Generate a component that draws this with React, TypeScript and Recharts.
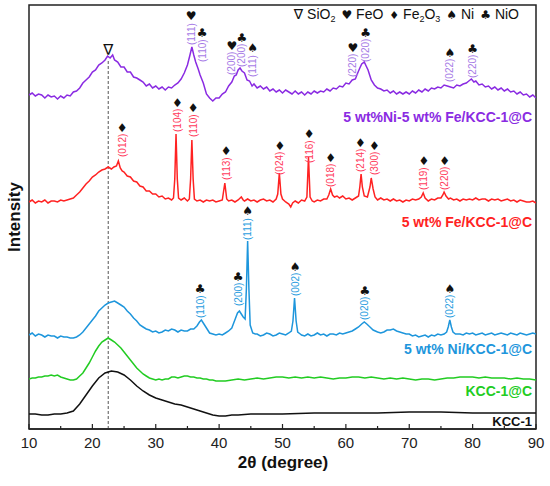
import { LineChart, Line, XAxis, YAxis, ReferenceArea, ReferenceDot, ReferenceLine } from "recharts";

// 2θ (degree) vs intensity (a.u.); curves are stacked with their offsets
const kcc1: [number, number][] = [
  [10, 15], [11, 15], [12, 14], [13, 14], [14, 15], [15, 15], [16, 16], [17, 18], [18, 25], [19, 34],
  [20, 43], [21, 51], [22, 56], [23, 58], [24, 57], [25, 54], [26, 49], [27, 43], [28, 38], [29, 34],
  [30, 31], [31, 29], [32, 27], [33, 25], [34, 24], [35, 22], [36, 20], [37, 18], [38, 16], [39, 14],
  [40, 13], [41, 13], [42, 14], [43, 14], [45, 15], [50, 15], [55, 16], [60, 16], [65, 16], [70, 17],
  [75, 17], [80, 16], [85, 16], [90, 16]
];

const kcc1C: [number, number][] = [
  [10, 50], [10.5, 51], [11, 51], [11.5, 52], [12, 52], [12.5, 53], [13, 53], [13.5, 54], [14, 53],
  [14.5, 54], [15, 52], [15.5, 51], [16, 50], [16.5, 49], [17, 49], [17.5, 50], [18, 53], [18.5, 56],
  [19, 61], [19.5, 66], [20, 72], [20.5, 78], [21, 83], [21.5, 87], [22, 89], [22.5, 91], [23, 89],
  [23.5, 87], [24, 84], [24.5, 81], [25, 77], [25.5, 73], [26, 69], [26.5, 65], [27, 61], [27.5, 58],
  [28, 55], [28.5, 53], [29, 51], [29.5, 50], [30, 49], [30.5, 50], [31, 49], [31.5, 50], [32, 50],
  [32.5, 52], [33, 52], [33.5, 51], [34, 52], [34.5, 53], [35, 53], [35.5, 52], [36, 52], [36.5, 51],
  [37, 51], [37.5, 50], [38, 50], [38.5, 49], [39, 49], [39.5, 48], [40, 48], [41, 48], [42, 49],
  [43, 50], [44, 49], [45, 50], [46, 51], [47, 50], [48, 51], [49, 52], [50, 52], [51, 51], [52, 52],
  [53, 51], [54, 52], [55, 51], [56, 52], [57, 51], [58, 50], [59, 51], [60, 51], [61, 52], [62, 52],
  [63, 51], [64, 52], [65, 51], [66, 50], [67, 51], [68, 50], [69, 51], [70, 50], [71, 49], [72, 50],
  [73, 50], [74, 49], [75, 50], [76, 51], [77, 51], [78, 52], [79, 52], [80, 52], [81, 51], [82, 52],
  [83, 51], [84, 51], [85, 51], [86, 50], [87, 51], [88, 50], [89, 50], [90, 49]
];

const niKcc: [number, number][] = [
  [10, 94], [10.5, 96], [11, 93], [11.5, 95], [12, 94], [12.5, 92], [13, 94], [13.5, 93], [14, 93],
  [14.5, 91], [15, 93], [15.5, 92], [16, 92], [16.5, 91], [17, 91], [17.5, 92], [18, 94], [18.5, 97],
  [19, 101], [19.5, 105], [20, 109], [20.5, 113], [21, 118], [21.5, 121], [22, 124], [22.5, 126],
  [23, 127], [23.5, 128], [24, 126], [24.5, 124], [25, 122], [25.5, 118], [26, 115], [26.5, 111],
  [27, 108], [27.5, 104], [28, 102], [28.5, 100], [29, 99], [29.5, 97], [30, 98], [30.5, 96], [31, 97],
  [31.5, 99], [32, 98], [32.5, 100], [33, 99], [33.5, 97], [34, 99], [34.5, 98], [35, 98], [35.5, 100],
  [36, 100], [36.5, 103], [36.9, 107], [37.2, 109], [37.6, 105], [38, 101], [38.5, 96], [39, 95],
  [39.5, 94], [40, 95], [40.5, 94], [41, 96], [41.5, 98], [42, 101], [42.3, 106], [42.6, 111],
  [42.9, 116], [43.2, 118], [43.5, 115], [43.8, 112], [44.1, 110], [44.3, 140], [44.5, 188], [44.7, 140],
  [44.9, 104], [45.3, 96], [45.7, 95], [46, 95], [46.5, 93], [47, 94], [47.5, 96], [48, 95], [48.5, 93],
  [49, 94], [49.5, 96], [50, 95], [50.5, 94], [51, 96], [51.4, 98], [51.65, 108], [51.9, 131],
  [52.15, 108], [52.4, 97], [52.8, 95], [53, 94], [53.5, 93], [54, 95], [54.5, 93], [55, 94], [55.5, 96],
  [56, 94], [56.5, 95], [57, 93], [57.5, 95], [58, 95], [58.5, 94], [59, 96], [59.5, 95], [60, 96],
  [60.5, 97], [61, 98], [61.5, 100], [62, 102], [62.5, 105], [62.9, 107], [63.3, 105], [63.8, 102],
  [64.3, 99], [65, 97], [65.5, 96], [66, 97], [66.5, 99], [67, 99], [67.5, 100], [68, 98], [68.5, 97],
  [69, 96], [69.5, 95], [70, 95], [70.5, 93], [71, 94], [71.5, 92], [72, 93], [72.5, 94], [73, 92],
  [73.5, 94], [74, 93], [74.5, 95], [75, 94], [75.5, 95], [75.9, 97], [76.15, 102], [76.4, 109],
  [76.65, 102], [76.9, 97], [77.3, 95], [78, 95], [78.5, 94], [79, 96], [79.5, 95], [80, 96], [80.5, 94],
  [81, 95], [81.5, 96], [82, 94], [82.5, 95], [83, 96], [83.5, 94], [84, 95], [84.5, 96], [85, 95],
  [85.5, 94], [86, 96], [86.5, 95], [87, 94], [87.5, 96], [88, 95], [88.5, 94], [89, 95], [89.5, 96],
  [90, 95]
];

const feKcc: [number, number][] = [
  [10, 227], [10.5, 229], [11, 226], [11.5, 228], [12, 227], [12.5, 229], [13, 226], [13.5, 228],
  [14, 228], [14.5, 227], [15, 229], [15.5, 228], [16, 229], [16.5, 230], [17, 231], [17.5, 234],
  [18, 237], [18.5, 241], [19, 245], [19.5, 248], [20, 252], [20.5, 254], [21, 257], [21.5, 259],
  [22, 260], [22.5, 262], [23, 260], [23.4, 262], [23.8, 263], [24.1, 268], [24.4, 261], [24.7, 258],
  [25, 257], [25.5, 253], [26, 252], [26.5, 248], [27, 247], [27.5, 243], [28, 242], [28.5, 238],
  [29, 238], [29.5, 235], [30, 235], [30.5, 232], [31, 233], [31.5, 230], [32, 231], [32.5, 229],
  [32.8, 231], [33, 250], [33.2, 295], [33.4, 250], [33.6, 231], [34, 229], [34.5, 231], [35, 228],
  [35.3, 230], [35.5, 250], [35.7, 289], [35.9, 250], [36.1, 230], [36.5, 228], [37, 229], [37.5, 227],
  [38, 229], [38.5, 228], [39, 229], [39.5, 227], [40, 228], [40.5, 229], [40.9, 246], [41.2, 230],
  [41.5, 228], [42, 229], [42.5, 227], [43, 229], [43.5, 232], [43.8, 229], [44, 228], [44.5, 230],
  [45, 228], [45.5, 229], [46, 227], [46.5, 229], [47, 230], [47.5, 228], [48, 229], [48.5, 227],
  [49, 230], [49.25, 235], [49.5, 256], [49.75, 235], [50, 230], [50.5, 227], [51, 225], [51.3, 222],
  [51.6, 226], [52, 228], [52.5, 226], [53, 229], [53.5, 228], [53.85, 232], [54.1, 272], [54.35, 232],
  [54.7, 228], [55, 227], [55.5, 229], [56, 228], [56.5, 230], [57, 230], [57.3, 234], [57.6, 240],
  [57.9, 234], [58.2, 232], [58.6, 233], [59, 231], [59.5, 233], [60, 230], [60.5, 231], [61, 229],
  [61.5, 231], [62, 233], [62.2, 242], [62.4, 255], [62.6, 242], [62.9, 233], [63.4, 232], [63.8, 242],
  [64, 251], [64.3, 240], [64.6, 232], [65, 229], [65.5, 231], [66, 229], [66.5, 230], [67, 228],
  [67.5, 230], [68, 228], [68.5, 229], [69, 227], [69.5, 229], [70, 228], [70.5, 230], [71, 229],
  [71.5, 230], [71.9, 232], [72.2, 236], [72.5, 231], [73, 228], [73.5, 230], [74, 229], [74.5, 231],
  [75, 231], [75.3, 234], [75.5, 237], [75.8, 233], [76.2, 230], [76.5, 231], [77, 229], [77.5, 230],
  [78, 228], [78.5, 230], [79, 229], [79.5, 230], [80, 229], [80.5, 231], [81, 229], [81.5, 230],
  [82, 230], [82.5, 228], [83, 230], [83.5, 229], [84, 230], [84.5, 228], [85, 229], [85.5, 230],
  [86, 228], [86.5, 229], [87, 227], [87.5, 229], [88, 228], [88.5, 227], [89, 227], [89.5, 228],
  [90, 226]
];

const niFeKcc: [number, number][] = [
  [10, 334], [10.5, 336], [11, 333], [11.5, 335], [12, 334], [12.5, 331], [13, 334], [13.5, 332],
  [14, 333], [14.5, 330], [15, 333], [15.5, 331], [16, 334], [16.5, 333], [17, 337], [17.5, 338],
  [18, 341], [18.5, 346], [19, 349], [19.5, 352], [20, 357], [20.5, 359], [21, 364], [21.5, 366],
  [22, 369], [22.4, 373], [22.8, 371], [23.2, 374], [23.5, 369], [24, 367], [24.5, 362], [25, 362],
  [25.5, 357], [26, 357], [26.5, 352], [27, 351], [27.5, 349], [28, 347], [28.5, 343], [29, 345],
  [29.5, 341], [30, 343], [30.5, 340], [31, 342], [31.5, 339], [32, 342], [32.5, 341], [33, 344],
  [33.5, 346], [34, 350], [34.5, 356], [35, 364], [35.4, 374], [35.7, 382], [36, 374], [36.3, 367],
  [36.7, 360], [37, 354], [37.5, 346], [38, 335], [38.5, 331], [39, 328], [39.5, 331], [40, 331],
  [40.5, 335], [41, 337], [41.5, 343], [42, 347], [42.4, 353], [42.7, 354], [43, 359], [43.3, 361],
  [43.6, 358], [44, 356], [44.4, 349], [44.8, 348], [45.2, 343], [45.5, 345], [46, 341], [46.5, 343],
  [47, 340], [47.5, 342], [48, 338], [48.5, 340], [49, 337], [49.5, 339], [50, 336], [50.5, 339],
  [51, 337], [51.5, 335], [52, 338], [52.5, 335], [53, 337], [53.5, 334], [54, 337], [54.5, 335],
  [55, 338], [55.5, 336], [56, 338], [56.5, 337], [57, 340], [57.5, 338], [58, 341], [58.5, 340],
  [59, 343], [59.5, 342], [60, 346], [60.5, 345], [61, 349], [61.5, 350], [61.8, 355], [62.2, 361],
  [62.5, 365], [62.9, 367], [63.2, 363], [63.5, 359], [63.8, 353], [64, 349], [64.5, 344], [65, 341],
  [65.5, 340], [66, 338], [66.5, 339], [67, 336], [67.5, 338], [68, 335], [68.5, 337], [69, 335],
  [69.5, 337], [70, 335], [70.5, 338], [71, 336], [71.5, 339], [72, 337], [72.5, 340], [73, 338],
  [73.5, 341], [74, 340], [74.5, 342], [75, 341], [75.5, 344], [76, 343], [76.5, 342], [77, 341],
  [77.5, 344], [78, 343], [78.5, 345], [79, 346], [79.4, 348], [79.8, 350], [80.2, 347], [80.5, 348],
  [81, 344], [81.5, 345], [82, 342], [82.5, 343], [83, 340], [83.5, 342], [84, 339], [84.5, 341],
  [85, 338], [85.5, 340], [86, 337], [86.5, 338], [87, 335], [87.5, 337], [88, 334], [88.5, 335],
  [89, 332], [89.5, 334], [90, 331]
];

// peak labels: [2θ, intensity at label foot, hkl, phase symbol]
const niFePeaks: [number, number, string, string][] = [
  [35.6, 384, "(111)", "♥"], [37.3, 367, "(110)", "♣"], [42.0, 354, "(200)", "♥"],
  [43.6, 362, "(200)", "♣"], [45.3, 352, "(111)", "♠"], [61.1, 352, "(220)", "♥"],
  [63.1, 367, "(020)", "♣"], [76.4, 347, "(022)", "♠"], [80.0, 351, "(220)", "♣"]
];

const fePeaks: [number, number, string, string][] = [
  [24.7, 272, "(012)", "♦"], [33.4, 297, "(104)", "♦"], [35.9, 292, "(110)", "♦"],
  [41.1, 249, "(113)", "♦"], [49.6, 254, "(024)", "♦"], [54.2, 266, "(116)", "♦"],
  [57.6, 242, "(018)", "♦"], [62.3, 257, "(214)", "♦"], [64.5, 254, "(300)", "♦"],
  [72.3, 239, "(119)", "♦"], [75.6, 239, "(220)", "♦"]
];

const niPeaks: [number, number, string, string][] = [
  [37.0, 111, "(110)", "♣"], [43.0, 123, "(200)", "♣"], [44.5, 189, "(111)", "♠"],
  [52.0, 133, "(002)", "♠"], [63.0, 109, "(020)", "♣"], [76.4, 111, "(022)", "♠"]
];

const xTicks = [10, 15, 20, 25, 30, 35, 40, 45, 50, 55, 60, 65, 70, 75, 80, 85, 90];
const sio2Pos = 22.5;

const font = "'Liberation Sans', Arial, sans-serif";
const symFont = "'DejaVu Sans', sans-serif";

const toPts = (arr: [number, number][]) => arr.map(([x, y]) => ({ x, y }));

const series = [
  { name: "KCC-1", data: kcc1, color: "#111111" },
  { name: "KCC-1@C", data: kcc1C, color: "#22cc22" },
  { name: "5 wt% Ni/KCC-1@C", data: niKcc, color: "#1e96dc" },
  { name: "5 wt% Fe/KCC-1@C", data: feKcc, color: "#ff2222" },
  { name: "5 wt%Ni-5 wt% Fe/KCC-1@C", data: niFeKcc, color: "#8a2be2" }
];

function PeakMark(props: any) {
  const { cx, cy, hkl, symbol, color } = props;
  if (cx == null || cy == null) return null;
  return (
    <g>
      <text
        transform={`translate(${cx + 3.5},${cy}) rotate(-90)`}
        fontSize={10}
        fontFamily={font}
        fill={color}
        textAnchor="start"
      >
        {hkl}
      </text>
      <text x={cx} y={cy - 25} fontSize={12} fontFamily={symFont} textAnchor="middle" fill="#111">
        {symbol}
      </text>
    </g>
  );
}

function XTick(props: any) {
  const { x, y, payload } = props;
  const major = payload.value % 10 === 0;
  return (
    <g>
      <line x1={x} x2={x} y1={y} y2={y - (major ? 5 : 3)} stroke="#222" strokeWidth={1.2} />
      {major && (
        <text x={x} y={y + 19} textAnchor="middle" fontSize={15} fontFamily={font} fill="#222">
          {payload.value}
        </text>
      )}
    </g>
  );
}

function peakDots(list: [number, number, string, string][], color: string, key: string) {
  return list.map(([x, y, hkl, symbol], i) => (
    <ReferenceDot
      key={key + i}
      x={x}
      y={y}
      r={0}
      shape={(p: any) => <PeakMark cx={p.cx} cy={p.cy} hkl={hkl} symbol={symbol} color={color} />}
    />
  ));
}

export default function App() {
  return (
    <div style={{ position: "absolute", left: 0, top: 0, width: 550, height: 486, background: "#fff" }}>
      <LineChart width={550} height={486} margin={{ top: 5, right: 14, bottom: 27, left: 29 }}>
        <XAxis
          dataKey="x"
          type="number"
          domain={[10, 90]}
          ticks={xTicks}
          tickSize={0}
          tickMargin={0}
          tickLine={false}
          tick={<XTick />}
          axisLine={{ stroke: "#222", strokeWidth: 1.5 }}
          height={30}
          allowDataOverflow
        />
        <YAxis type="number" domain={[0, 424]} hide allowDataOverflow />
        <ReferenceArea x1={10} x2={90} y1={0} y2={424} fill="none" stroke="#222" strokeWidth={1.5} />
        <ReferenceLine
          segment={[{ x: sio2Pos, y: 0 }, { x: sio2Pos, y: 368 }]}
          stroke="#555"
          strokeDasharray="3 2"
          strokeWidth={1}
        />
        {series.map((s) => (
          <Line
            key={s.name}
            data={toPts(s.data)}
            dataKey="y"
            type="linear"
            dot={false}
            stroke={s.color}
            strokeWidth={1.5}
            isAnimationActive={false}
          />
        ))}
        <ReferenceDot
          x={sio2Pos}
          y={379}
          r={0}
          shape={(p: any) => (
            <text x={p.cx} y={p.cy + 5} textAnchor="middle" fontSize={15} fontFamily={symFont} fill="#111">
              ∇
            </text>
          )}
        />
        {peakDots(niFePeaks, "#a77be6", "nf")}
        {peakDots(fePeaks, "#ff3b5c", "fe")}
        {peakDots(niPeaks, "#2a9de0", "ni")}
      </LineChart>
      <svg width={550} height={486} style={{ position: "absolute", left: 0, top: 0, pointerEvents: "none" }}>
        <text x={519} y={19} textAnchor="end" fontSize={14} fontFamily={font} fill="#111">
          <tspan fontFamily={symFont}>∇</tspan>
          <tspan> SiO</tspan>
          <tspan fontSize={9} dy={3}>2</tspan>
          <tspan dy={-3} dx={6} fontFamily={symFont} fontSize={12}>♥</tspan>
          <tspan> FeO</tspan>
          <tspan dx={6} fontFamily={symFont} fontSize={11}>♦</tspan>
          <tspan> Fe</tspan>
          <tspan fontSize={9} dy={3}>2</tspan>
          <tspan dy={-3}>O</tspan>
          <tspan fontSize={9} dy={3}>3</tspan>
          <tspan dy={-3} dx={6} fontFamily={symFont} fontSize={12}>♠</tspan>
          <tspan> Ni</tspan>
          <tspan dx={6} fontFamily={symFont} fontSize={12}>♣</tspan>
          <tspan> NiO</tspan>
        </text>
        <text x={532} y={122} textAnchor="end" fontSize={14} fontWeight="bold" fontFamily={font} fill="#8a2be2">
          5 wt%Ni-5 wt% Fe/KCC-1@C
        </text>
        <text x={532} y={227} textAnchor="end" fontSize={14} fontWeight="bold" fontFamily={font} fill="#ff2222">
          5 wt% Fe/KCC-1@C
        </text>
        <text x={532} y={354} textAnchor="end" fontSize={14} fontWeight="bold" fontFamily={font} fill="#1e96dc">
          5 wt% Ni/KCC-1@C
        </text>
        <text x={532} y={396} textAnchor="end" fontSize={14} fontWeight="bold" fontFamily={font} fill="#22cc22">
          KCC-1@C
        </text>
        <text x={532} y={426} textAnchor="end" fontSize={13} fontWeight="bold" fontFamily={font} fill="#111">
          KCC-1
        </text>
        <text x={283} y={468} textAnchor="middle" fontSize={17} fontWeight="bold" fontFamily={font} fill="#111">
          2θ (degree)
        </text>
        <text transform="translate(20,217) rotate(-90)" textAnchor="middle" fontSize={17} fontWeight="bold" fontFamily={font} fill="#111">
          Intensity
        </text>
      </svg>
    </div>
  );
}
